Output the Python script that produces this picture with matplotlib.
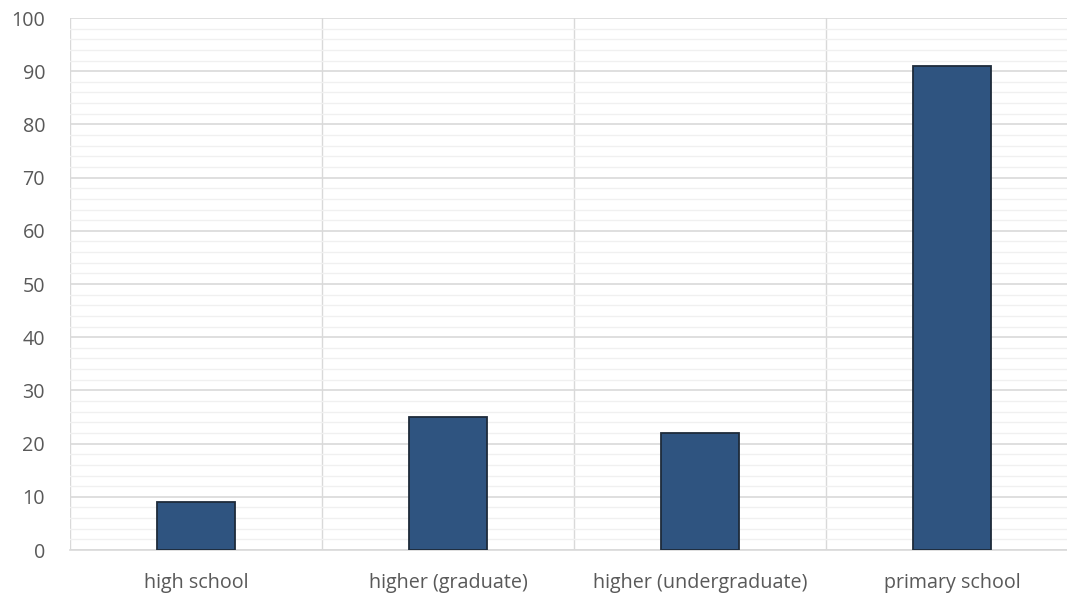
import matplotlib.pyplot as plt
import numpy as np

# donnees
categories = ["high school", "higher (graduate)", "higher (undergraduate)", "primary school"]
valeurs = [9, 25, 22, 91]
y_ticks = list(range(0, 101, 10))

plt.rcParams['font.family'] = ['Open Sans', 'DejaVu Sans']

fig = plt.figure(figsize=(10.67, 6.01), dpi=100)
ax = fig.add_axes([70 / 1067, 1 - 550 / 601, 1008 / 1067, 532 / 601])

x = np.arange(len(categories))
ax.bar(x, valeurs, width=0.31, color='#2F5480', edgecolor='#1E2B3A', linewidth=1.3, zorder=3)

ax.set_xlim(-0.5, len(categories) - 0.5)
ax.set_ylim(0, 100)

# grille majeure / mineure facon Excel
ax.set_yticks(y_ticks)
ax.set_yticks(np.arange(0, 101, 2), minor=True)
ax.grid(axis='y', which='major', color='#D9D9D9', linewidth=1.2, zorder=0)
ax.grid(axis='y', which='minor', color='#F0F0F0', linewidth=1.0, zorder=0)
for xb in np.arange(-0.5, len(categories), 1):
    ax.axvline(xb, color='#D9D9D9', linewidth=1.0, zorder=1)

ax.set_xticks(x)
ax.set_xticklabels(categories)
ax.tick_params(axis='both', which='both', length=0, labelsize=14.2, colors='#595959')
ax.tick_params(axis='x', pad=16.5)
ax.tick_params(axis='y', pad=18)

for s in ['top', 'right', 'left']:
    ax.spines[s].set_visible(False)
ax.spines['bottom'].set_color('#D9D9D9')
ax.spines['bottom'].set_linewidth(1.2)

plt.savefig('out.png', dpi=100, facecolor='white')
